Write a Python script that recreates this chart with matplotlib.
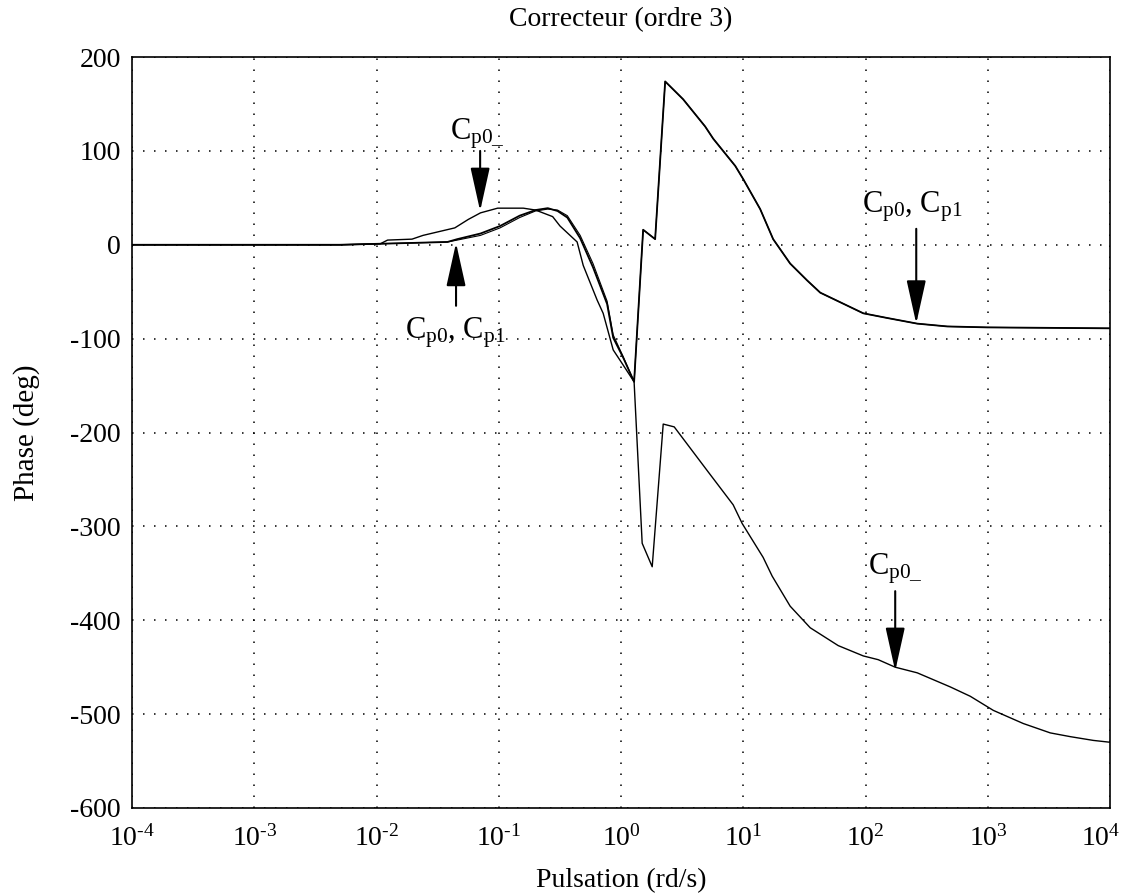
import numpy as np
import matplotlib
matplotlib.use("Agg")
import matplotlib.pyplot as plt
from matplotlib.transforms import ScaledTranslation

plt.rcParams['font.family'] = ['Liberation Serif', 'DejaVu Serif']
plt.rcParams['mathtext.fontset'] = 'custom'
plt.rcParams['mathtext.rm'] = 'Liberation Serif'
plt.rcParams['mathtext.it'] = 'Liberation Serif'
plt.rcParams['mathtext.default'] = 'regular'

# log10 of pulsation (rd/s) and phase (deg)
cp0_logw = [-4, -2.3, -2.0, -1.7, -1.42, -1.34, -1.15, -0.99, -0.83, -0.70, -0.60,
            -0.52, -0.44, -0.335, -0.23, -0.115, -0.065, 0.016, 0.106, 0.180, 0.278,
            0.36, 0.507, 0.687, 0.753, 0.933, 0.998, 1.137, 1.243, 1.382, 1.521,
            1.628, 1.980, 2.176, 2.421, 2.667, 2.994, 4.0]
cp0_phase = [0, 0, 1, 2, 3, 6, 12, 20, 31, 37, 39,
             36, 29, 7, -24, -63, -99, -120, -146, 16, 6,
             174, 155, 126, 113, 84, 70, 38, 6, -20, -38,
             -51, -73, -78, -84, -87, -88, -89]

cp1_phase = [0, 0, 1, 2, 3, 5, 10, 18, 29, 36, 38,
             37, 31, 10, -20, -60, -96, -119, -146, 16, 6,
             174, 155, 126, 113, 84, 70, 38, 6, -20, -38,
             -51, -73, -78, -84, -87, -88, -89]

cp0m_logw = [-4, -2.3, -1.97, -1.91, -1.71, -1.62, -1.36, -1.25, -1.15, -1.01, -0.80,
             -0.70, -0.56, -0.50, -0.36, -0.31, -0.196, -0.147, -0.065, 0.016, 0.106,
             0.172, 0.254, 0.344, 0.434, 0.712, 0.916, 0.990, 1.161, 1.235, 1.382,
             1.546, 1.775, 1.980, 2.102, 2.241, 2.421, 2.691, 2.855, 3.043, 3.288,
             3.509, 3.673, 3.861, 4.0]
cp0m_phase = [0, 0, 1, 5, 6, 10, 18, 27, 34, 39, 39,
              37, 30, 20, 3, -22, -59, -73, -112, -128, -146,
              -318, -343, -191, -194, -242, -277, -297, -333, -353, -385,
              -408, -427, -438, -442, -450, -456, -471, -481, -496, -510,
              -520, -524, -528, -530]

xticks = [1e-4, 1e-3, 1e-2, 1e-1, 1e0, 1e1, 1e2, 1e3, 1e4]
xticklabels = [r'10$^{\text{-4}}$', r'10$^{\text{-3}}$', r'10$^{\text{-2}}$',
               r'10$^{\text{-1}}$', '10$^{0}$', '10$^{1}$', '10$^{2}$',
               '10$^{3}$', '10$^{4}$']
yticks = [200, 100, 0, -100, -200, -300, -400, -500, -600]
yticklabels = ['200', '100', '0', '-100', '-200', '-300', '-400', '-500', '-600']

# annotations: label, label pos (log10 w, phase), arrow tail, arrow tip
notes = [
    (r'C$_{p0\_}$', (-1.40, 112), (-1.153, 100), (-1.153, 36)),
    (r'C$_{p0}$, C$_{p1}$', (-1.77, -100), (-1.35, -65), (-1.35, 2)),
    (r'C$_{p0}$, C$_{p1}$', (1.97, 34), (2.413, 17), (2.413, -84)),
    (r'C$_{p0\_}$', (2.02, -351), (2.241, -369), (2.241, -454)),
]

fig = plt.figure(figsize=(11.22, 8.94), dpi=100)
ax = fig.add_axes([0.1176, 0.0962, 0.872, 0.840])

ax.semilogx(10 ** np.array(cp0_logw), cp0_phase, color='k', lw=1.3)
ax.semilogx(10 ** np.array(cp0_logw), cp1_phase, color='k', lw=0.8)
ax.semilogx(10 ** np.array(cp0m_logw), cp0m_phase, color='k', lw=1.0)

ax.set_xlim(1e-4, 1e4)
ax.set_ylim(-600, 200)
ax.set_xticks(xticks)
ax.set_xticklabels(xticklabels)
ax.set_yticks(yticks)
ax.set_yticklabels(yticklabels)
ax.minorticks_off()
ax.tick_params(length=0, labelsize=20)
ax.tick_params(axis='x', pad=12)
ax.tick_params(axis='y', pad=8)
ax.grid(True, color='k', linestyle=(0, (1, 6.2)), linewidth=1.1)
for s in ax.spines.values():
    s.set_linewidth(1.2)

# last x label sits a little to the left so it stays inside the figure
last = ax.get_xticklabels()[-1]
last.set_transform(last.get_transform() + ScaledTranslation(-10 / 100, 0, fig.dpi_scale_trans))

for label, lpos, tail, tip in notes:
    ax.text(10 ** lpos[0], lpos[1], label, fontsize=22, ha='left', va='baseline')
    ax.annotate('', xy=(10 ** tip[0], tip[1]), xytext=(10 ** tail[0], tail[1]),
                arrowprops=dict(arrowstyle='-|>,head_length=1.35,head_width=0.3',
                                color='k', lw=1.5, shrinkA=0, shrinkB=0,
                                mutation_scale=20))

ax.set_title('Correcteur (ordre 3)', fontsize=20, pad=22)
ax.set_xlabel('Pulsation (rd/s)', fontsize=20, labelpad=12)
ax.set_ylabel('Phase (deg)', fontsize=21, labelpad=22)

fig.savefig('out.png', dpi=100)
